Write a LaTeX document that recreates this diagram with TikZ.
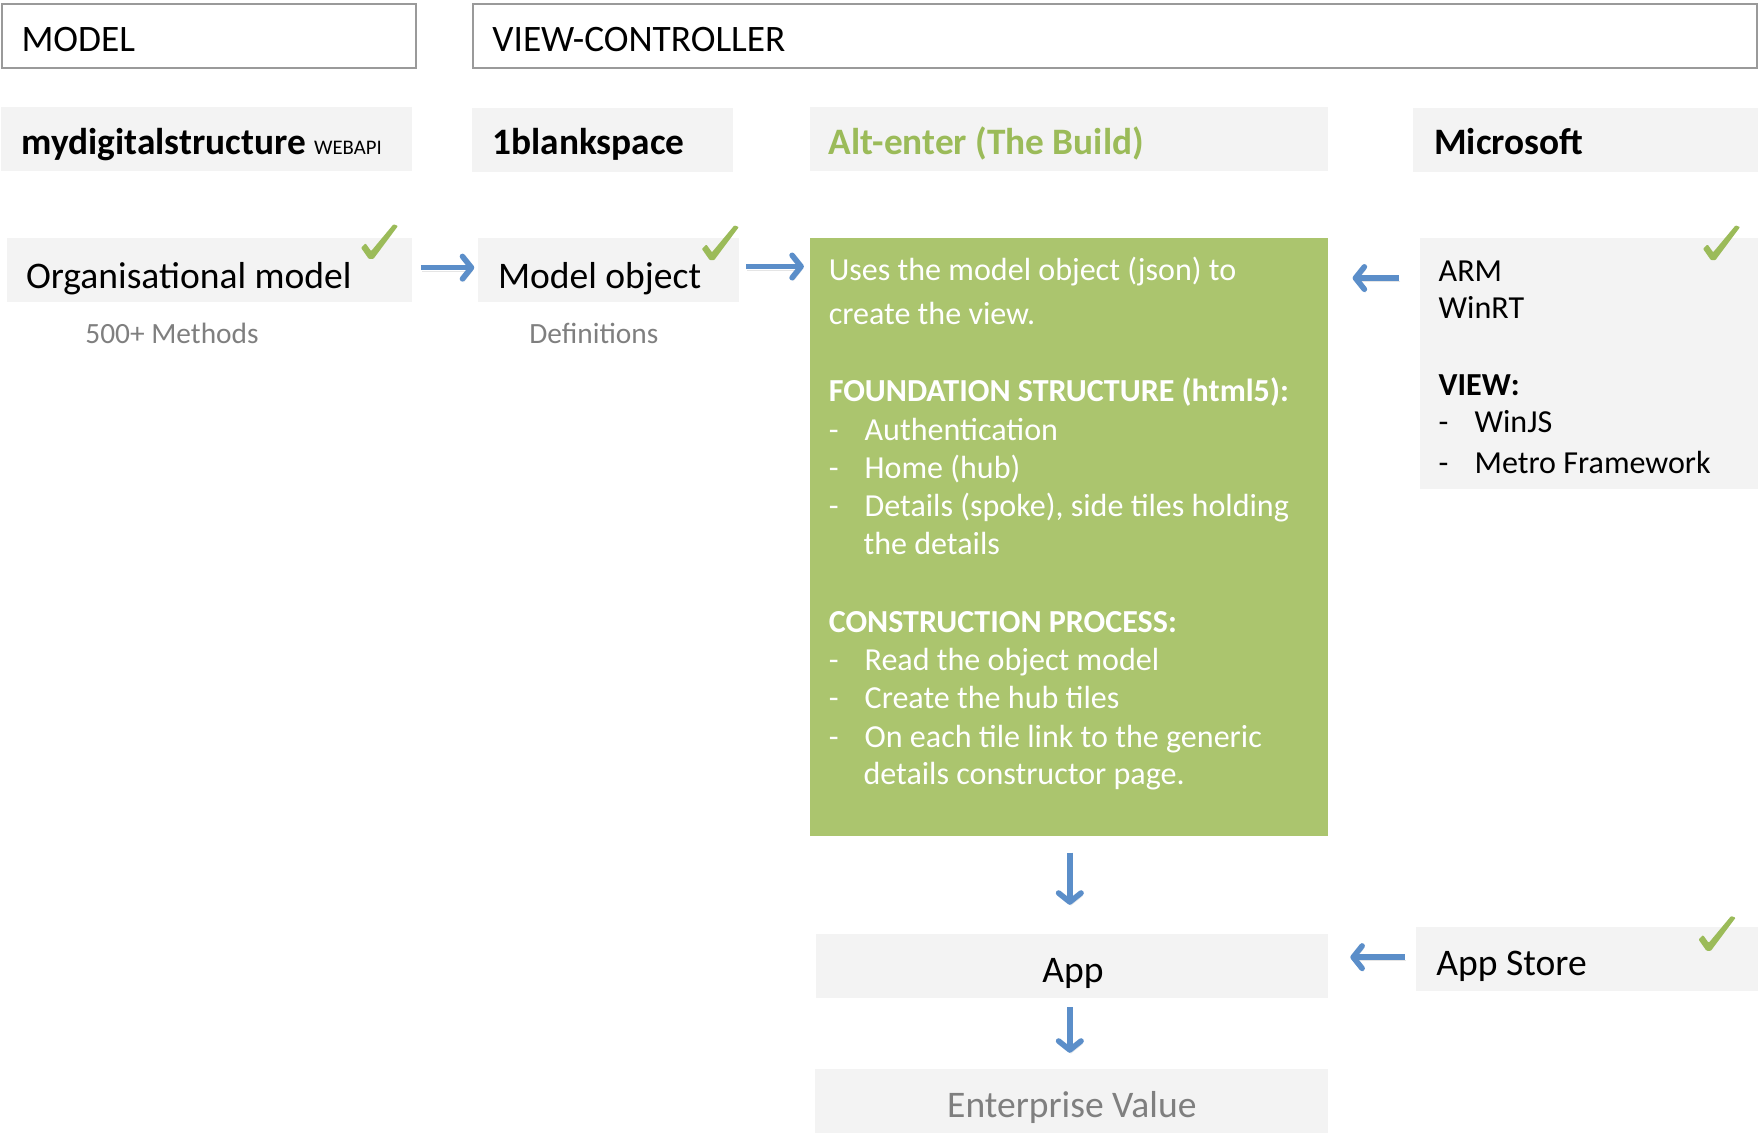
\documentclass[tikz,border=0pt]{standalone}
\usepackage{fontspec}
\setmainfont{Carlito}
\usetikzlibrary{arrows.meta,calc}
\definecolor{hdrgray}{HTML}{F3F3F3}
\definecolor{framegray}{HTML}{9A9A9A}
\definecolor{buildgreen}{RGB}{171,197,110}
\definecolor{titlegreen}{RGB}{155,187,89}
\definecolor{arrowblue}{RGB}{91,142,201}
\definecolor{softgray}{HTML}{7F7F7F}
\begin{document}
\begin{tikzpicture}[x=1pt,y=-1pt,
  frame/.style={draw=framegray, line width=1.6pt, fill=white, inner sep=0pt, anchor=north west},
  tile/.style={fill=hdrgray, draw=none, inner sep=0pt, anchor=north west},
  greentile/.style={fill=buildgreen, draw=none, inner sep=0pt, anchor=north west},
  txt/.style={inner sep=0pt, anchor=base west, font=\fontsize{33.3}{38}\selectfont},
  bigtxt/.style={inner sep=0pt, anchor=base west, font=\fontsize{33.5}{38}\selectfont},
  hdtxt/.style={inner sep=0pt, anchor=base west, font=\bfseries\fontsize{33.3}{38}\selectfont},
  subtxt/.style={inner sep=0pt, anchor=base west, text=softgray, font=\fontsize{26.2}{30}\selectfont},
  gtxt/.style={inner sep=0pt, anchor=base west, text=white, font=\fontsize{28.6}{32}\selectfont},
  gbold/.style={gtxt, font=\bfseries\fontsize{28.6}{32}\selectfont},
  mtxt/.style={inner sep=0pt, anchor=base west, font=\fontsize{28.6}{32}\selectfont},
  mbold/.style={mtxt, font=\bfseries\fontsize{28.6}{32}\selectfont},
  arr/.style={draw=arrowblue, line width=5pt, -{Straight Barb[length=8pt, width=20pt, round]},
    preaction={draw=black, opacity=0.10, transform canvas={shift={(1pt,-3pt)}}}},
  tick/.pic={\fill[titlegreen, rounded corners=0.8pt] (0,21) -- (4,17) -- (9,24) -- (29,0) -- (33,1.5) -- (11,31) -- (7,31) -- cycle;}
]
\useasboundingbox (0,0) rectangle (1568,1012);

% top frames
\node[frame, minimum width=369pt, minimum height=57pt] (model) at (1,3) {};
\node[txt] (modelt) at (19,46) {MODEL};
\node[frame, minimum width=1145pt, minimum height=57pt] (vc) at (421,3) {};
\node[txt] (vct) at (439,46) {VIEW-CONTROLLER};

% header tiles
\node[tile, minimum width=366pt, minimum height=57pt] (mds) at (1,95) {};
\node[hdtxt] (mdst) at (19,138) {mydigitalstructure \fontsize{18.5}{20}\selectfont\mdseries WEBAPI};
\node[tile, minimum width=233pt, minimum height=57pt] (obs) at (421,96) {};
\node[hdtxt] (obst) at (439,138) {1blankspace};
\node[tile, minimum width=462pt, minimum height=57pt] (ae) at (722,95) {};
\node[hdtxt, text=titlegreen] (aet) at (739,138) {Alt-enter (The Build)};
\node[tile, minimum width=308pt, minimum height=57pt] (msh) at (1260,96) {};
\node[hdtxt] (msht) at (1279,138) {Microsoft};

% second row
\node[tile, minimum width=361pt, minimum height=57pt] (org) at (6,212) {};
\node[bigtxt] (orgt) at (23,257) {Organisational model};
\node[subtxt] (orgs) at (76,306.5) {500+ Methods};
\node[tile, minimum width=233pt, minimum height=57pt] (mo) at (426,212) {};
\node[bigtxt] (mot) at (444,257) {Model object};
\node[subtxt] (mos) at (472,306) {Definitions};

% green build box
\node[greentile, minimum width=462pt, minimum height=533pt] (green) at (722,212) {};
\node[gtxt] (g1) at (739,250) {Uses the model object (json) to};
\node[gtxt] (g2) at (739,289) {create the view.};
\node[gbold] (g3) at (739,358) {FOUNDATION STRUCTURE (html5):};
\node[gtxt] (g4a) at (739,393) {-};
\node[gtxt] (g4) at (771,393) {Authentication};
\node[gtxt] (g5a) at (739,427) {-};
\node[gtxt] (g5) at (771,427) {Home (hub)};
\node[gtxt] (g6a) at (739,461) {-};
\node[gtxt] (g6) at (771,461) {Details (spoke), side tiles holding};
\node[gtxt] (g7) at (770,495) {the details};
\node[gbold] (g8) at (739,564) {CONSTRUCTION PROCESS:};
\node[gtxt] (g9a) at (739,598) {-};
\node[gtxt] (g9) at (771,598) {Read the object model};
\node[gtxt] (g10a) at (739,632) {-};
\node[gtxt] (g10) at (771,632) {Create the hub tiles};
\node[gtxt] (g11a) at (739,667) {-};
\node[gtxt] (g11) at (771,667) {On each tile link to the generic};
\node[gtxt] (g12) at (770,700) {details constructor page.};

% microsoft box
\node[tile, minimum width=302pt, minimum height=224pt] (ms) at (1266,212) {};
\node[mtxt] (m1) at (1283,251) {ARM};
\node[mtxt] (m2) at (1283,284) {WinRT};
\node[mbold] (m3) at (1283,353) {VIEW:};
\node[mtxt] (m4a) at (1283,386) {-};
\node[mtxt] (m4) at (1315,386) {WinJS};
\node[mtxt] (m5a) at (1283,422) {-};
\node[mtxt] (m5) at (1315,422) {Metro Framework};

% lower boxes
\node[tile, minimum width=456pt, minimum height=57pt] (app) at (728,833) {};
\node[bigtxt, anchor=base] (appt) at (957,876) {App};
\node[tile, minimum width=305pt, minimum height=57pt] (as) at (1263,827) {};
\node[bigtxt] (ast) at (1281,870) {App Store};
\node[tile, minimum width=457pt, minimum height=57pt] (ev) at (727,953) {};
\node[bigtxt, anchor=base, text=softgray] (evt) at (956,997) {Enterprise Value};

% check marks
\pic at (322,200) {tick};
\pic at (626,201) {tick};
\pic at (1519,201) {tick};
\pic at (1515,817) {tick};

% arrows
\draw[arr, shorten <=8pt, shorten >=3pt] ([yshift=2pt]org.east) -- ([yshift=2pt]mo.west);
\draw[arr, shorten <=6pt, shorten >=5pt] ([yshift=3pt]mo.east) -- ([yshift=3pt]mo.east -| green.west);
\draw[arr, shorten <=18pt, shorten >=22pt] ([yshift=-36pt]ms.north west) -- ([yshift=-36pt]ms.north west -| green.east);
\draw[arr, shorten <=15pt, shorten >=26pt] ([xshift=1pt]green.south) -- ([xshift=1pt]green.south |- app.north);
\draw[arr, shorten <=10pt, shorten >=20pt] ([yshift=2pt]as.west) -- ([yshift=2pt]as.west -| app.east);
\draw[arr, shorten <=8pt, shorten >=14pt] ([xshift=-2pt]app.south) -- ([xshift=-2pt]app.south |- ev.north);
\end{tikzpicture}
\end{document}
